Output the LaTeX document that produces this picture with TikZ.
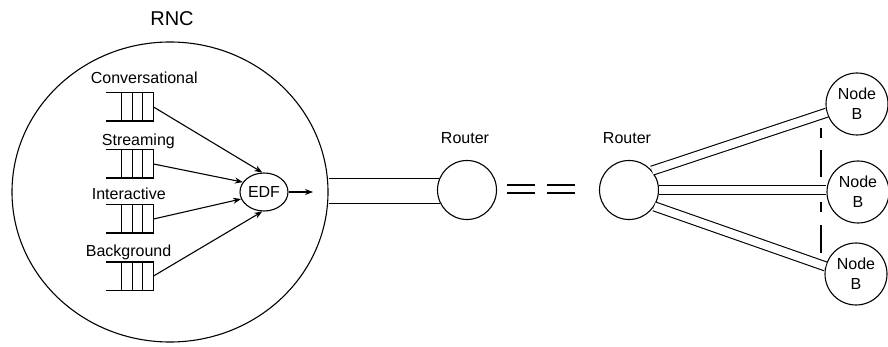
\documentclass[tikz,border=0pt]{standalone}
\usepackage{fontspec}
\setmainfont{Liberation Sans}
\usetikzlibrary{arrows.meta,shapes.geometric}
\tikzset{arrow/.style={-{Stealth[length=8pt,width=6pt]}},
	queue/.style={minimum width=46pt, minimum height=27pt, inner sep=0pt},
	router/.style={draw, circle, minimum size=59pt, inner sep=0pt},
	nodeb/.style={draw, circle, minimum size=62pt, inner sep=0pt, align=center},
	link/.style={double, double distance=8pt},
	bar/.style={line width=2.6pt}}

% a queue: open on the left, three cells on the right
\newcommand{\queue}[2]{%
	\node[queue] (#1) at (#2) {};
	\draw (#1.north west) -- (#1.north east) -- (#1.south east) -- (#1.south west);
	\draw ([xshift=15pt]#1.north west) -- ([xshift=15pt]#1.south west);
	\draw ([xshift=26pt]#1.north west) -- ([xshift=26pt]#1.south west);
	\draw ([xshift=36pt]#1.north west) -- ([xshift=36pt]#1.south west);
}

\begin{document}
\begin{tikzpicture}[x=1pt,y=-1pt,line width=1.1pt,font=\fontsize{16}{20}\selectfont]
		
		\useasboundingbox (0,0) rectangle (888,347);
		
		% RNC
		\node[draw, ellipse, minimum width=316pt, minimum height=300pt, inner sep=0pt] (rnc) at (170,192) {};
		\node[anchor=base, font=\fontsize{20}{24}\selectfont] (rnclabel) at (172,26) {RNC};
		
		\queue{conv}{130,107}
		\queue{stream}{130,164}
		\queue{inter}{130,219}
		\queue{back}{130,276}
		
		\node[anchor=base west] (convlabel) at (87,84) {Conversational};
		\node[anchor=base west] (streamlabel) at (98,146) {Streaming};
		\node[anchor=base west] (interlabel) at (88,200) {Interactive};
		\node[anchor=base west] (backlabel) at (82,256) {Background};
		
		\node[draw, ellipse, minimum width=48pt, minimum height=38pt, inner sep=0pt] (edf) at (264,192) {EDF};
		\coordinate (out) at (313,192);
		
		\draw[arrow] (conv.east) -- (edf.95);
		\draw[arrow] (stream.east) -- (edf.155);
		\draw[arrow] (inter.east) -- (edf.197);
		\draw[arrow] (back.east) -- (edf.265);
		\draw[arrow] (edf) -- (out);
		
		% routers
		\node[router] (r1) at (467,190) {};
		\node[router] (r2) at (629,190) {};
		\node[anchor=base] (r1label) at (465,144) {Router};
		\node[anchor=base] (r2label) at (627,144) {Router};
		
		\draw (rnc.east |- r1.158) -- (r1.158);
		\draw (rnc.east |- r1.206) -- (r1.206);
		
		\draw[bar] (507,185) -- (535,185);
		\draw[bar] (507,193) -- (535,193);
		\draw[bar] (547,185) -- (575,185);
		\draw[bar] (547,193) -- (575,193);
		
		% node Bs
		\node[nodeb] (nb1) at (857,104) {Node\\B};
		\node[nodeb] (nb2) at (858,192) {Node\\B};
		\node[nodeb] (nb3) at (856,274) {Node\\B};
		
		\draw[line width=2pt, dash pattern=on 10pt off 12pt on 27pt off 25pt on 10pt off 13pt on 28pt off 0pt] (821,128) -- (821,253);
		
		\draw[link] (r2.40) -- (nb1.196);
		\draw[link] (r2.east) -- (r2.east -| nb2.west);
		\draw[link] (r2.327) -- (nb3.166);
	\end{tikzpicture}
\end{document}
